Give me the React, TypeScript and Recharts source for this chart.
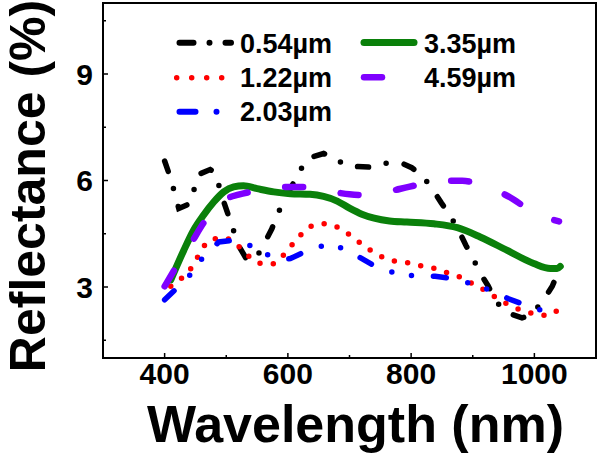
import React from 'react';
import { LineChart, Line, XAxis, YAxis, ReferenceArea } from 'recharts';

// ---- data (wavelength in nm, reflectance in %) ----
const nm054 = [400, 410, 416, 423, 441, 455, 474, 480, 488, 496, 504, 512, 520, 533, 540, 550, 563, 574, 584, 596, 618, 631, 658, 680, 692, 704, 731, 755, 781, 801, 819, 836, 849, 864, 877, 889, 900, 912, 925, 937, 950, 965, 980, 990, 998, 1014, 1029, 1040];
const r054 = [6.55, 6.05, 5.66, 5.21, 5.35, 6.17, 6.31, 6.25, 5.86, 5.40, 4.99, 4.58, 4.17, 3.78, 3.74, 3.86, 4.27, 4.64, 5.08, 5.51, 6.22, 6.62, 6.76, 6.60, 6.42, 6.40, 6.38, 6.48, 6.52, 6.36, 6.12, 5.72, 5.37, 4.99, 4.60, 4.17, 3.82, 3.39, 3.03, 2.62, 2.35, 2.22, 2.13, 2.18, 2.28, 2.61, 3.02, 3.48];

const nm122 = [410, 423, 437, 450, 461, 476, 498, 515, 532, 552, 573, 589, 604, 618, 635, 657, 677, 696, 713, 733, 753, 773, 795, 817, 838, 860, 882, 900, 919, 938, 957, 977, 999, 1021, 1037];
const r122 = [3.02, 3.19, 3.39, 3.73, 4.08, 4.34, 4.38, 4.22, 3.94, 3.68, 3.64, 3.83, 4.13, 4.41, 4.69, 4.78, 4.71, 4.52, 4.30, 4.05, 3.85, 3.73, 3.68, 3.59, 3.52, 3.39, 3.26, 3.09, 2.91, 2.70, 2.51, 2.36, 2.25, 2.20, 2.34];

const nm203 = [400, 420, 442, 462, 488, 519, 545, 576, 590, 604, 632, 664, 691, 717, 744, 776, 809, 839, 869, 899, 931, 958, 987, 1020];
const r203 = [2.64, 2.97, 3.35, 3.83, 4.27, 4.33, 4.11, 3.83, 3.78, 3.80, 4.03, 4.20, 4.08, 3.83, 3.56, 3.38, 3.30, 3.30, 3.23, 3.09, 2.89, 2.67, 2.48, 2.30];

const nm335 = [410, 431, 447, 463, 480, 496, 512, 528, 550, 577, 604, 636, 658, 680, 700, 720, 740, 765, 793, 837, 875, 912, 956, 999, 1026, 1037, 1042];
const r335 = [3.20, 4.03, 4.60, 5.02, 5.40, 5.68, 5.82, 5.85, 5.77, 5.68, 5.63, 5.61, 5.55, 5.42, 5.22, 5.05, 4.94, 4.86, 4.83, 4.78, 4.67, 4.41, 4.03, 3.66, 3.52, 3.52, 3.58];

const nm459 = [400, 420, 442, 463, 482, 501, 520, 540, 565, 590, 626, 650, 674, 700, 720, 740, 760, 796, 825, 850, 883, 910, 931, 961, 985, 1004, 1020, 1040];
const r459 = [3.02, 3.60, 4.20, 4.80, 5.22, 5.49, 5.60, 5.68, 5.76, 5.82, 5.82, 5.75, 5.68, 5.61, 5.59, 5.62, 5.68, 5.82, 5.93, 5.99, 5.99, 5.90, 5.77, 5.52, 5.25, 5.05, 4.95, 4.85];

const seriesNames = ['0.54\u00b5m', '1.22\u00b5m', '2.03\u00b5m', '3.35\u00b5m', '4.59\u00b5m'];
const xTicks = [400, 500, 600, 700, 800, 900, 1000];
const xLabeled = [400, 600, 800, 1000];
const yTicks = [1.5, 3, 4.5, 6, 7.5, 9, 10.5];
const yLabeled = [3, 6, 9];

const zip = (xs: number[], ys: number[]) => xs.map((x, i) => ({ x, y: ys[i] }));
const d054 = zip(nm054, r054);
const d122 = zip(nm122, r122);
const d203 = zip(nm203, r203);
const d335 = zip(nm335, r335);
const d459 = zip(nm459, r459);

const FONT = 'Liberation Sans, Arial, Helvetica, sans-serif';

const XTick = (props: any) => {
  const { x, y, payload } = props;
  const major = xLabeled.includes(payload.value);
  return (
    <g>
      <line x1={x} x2={x} y1={y} y2={y - (major ? 5 : 3)} stroke="#000" strokeWidth={1.5} />
      {major && (
        <text x={x} y={y + 25.5} textAnchor="middle" fontFamily={FONT} fontWeight="bold" fontSize={30} fill="#000">
          {payload.value}
        </text>
      )}
    </g>
  );
};

const YTick = (props: any) => {
  const { x, y, payload } = props;
  const major = yLabeled.includes(payload.value);
  return (
    <g>
      <line x1={x} x2={x + (major ? 5 : 3)} y1={y} y2={y} stroke="#000" strokeWidth={1.5} />
      {major && (
        <text x={x - 10} y={y + 10.5} textAnchor="end" fontFamily={FONT} fontWeight="bold" fontSize={30} fill="#000">
          {payload.value}
        </text>
      )}
    </g>
  );
};

const XTitle = (props: any) => {
  const vb = props.viewBox || { x: 103, y: 358, width: 493, height: 102 };
  return (
    <text x={vb.x + vb.width / 2 + 6} y={vb.y + 84} textAnchor="middle" fontFamily={FONT} fontWeight="bold" fontSize={52} fill="#000">
      Wavelength (nm)
    </text>
  );
};

const YTitle = (props: any) => {
  const vb = props.viewBox || { x: 0, y: 3, width: 103, height: 355 };
  const cx = 45;
  const cy = vb.y + vb.height / 2 + 5.5;
  return (
    <text x={cx} y={cy} transform={`rotate(-90, ${cx}, ${cy})`} textAnchor="middle" fontFamily={FONT} fontWeight="bold" fontSize={50} fill="#000">
      Reflectance (%)
    </text>
  );
};

const LegendOverlay = () => (
  <svg width={600} height={140} style={{ position: 'absolute', left: 0, top: 0, pointerEvents: 'none' }}>
    <line x1={179.5} x2={231} y1={42.7} y2={42.7} stroke="#000" strokeWidth={6} strokeLinecap="round" strokeDasharray="14 16 0 16 20" />
    <line x1={176.7} x2={222} y1={77.7} y2={77.7} stroke="#ff0000" strokeWidth={5.5} strokeLinecap="round" strokeDasharray="0 15" />
    <line x1={179.5} x2={217} y1={111.7} y2={111.7} stroke="#0000ff" strokeWidth={6} strokeLinecap="round" strokeDasharray="16 21 0 100" />
    <line x1={364} x2={414} y1={42.5} y2={42.5} stroke="#0a800a" strokeWidth={7} strokeLinecap="round" />
    <line x1={364} x2={382} y1={77.3} y2={77.3} stroke="#7f00ff" strokeWidth={6.5} strokeLinecap="round" />
    <g fontFamily={FONT} fontWeight="bold" fontSize={27} fill="#000">
      <text x={240} y={52.5}>{seriesNames[0]}</text>
      <text x={240} y={87}>{seriesNames[1]}</text>
      <text x={240} y={121}>{seriesNames[2]}</text>
      <text x={424} y={52.5}>{seriesNames[3]}</text>
      <text x={424} y={87}>{seriesNames[4]}</text>
    </g>
  </svg>
);

export default function App() {
  return (
    <div style={{ position: 'absolute', left: 0, top: 0, width: 600, height: 460, background: '#fff' }}>
      <LineChart width={600} height={460} margin={{ top: 3, right: 4, left: 0, bottom: 0 }}>
        <XAxis
          dataKey="x"
          type="number"
          domain={[300, 1100]}
          ticks={xTicks}
          interval={0}
          tick={<XTick />}
          tickLine={false}
          axisLine={false}
          tickSize={0}
          tickMargin={0}
          height={102}
          allowDataOverflow
          label={{ content: <XTitle /> }}
        />
        <YAxis
          type="number"
          domain={[1, 11]}
          ticks={yTicks}
          interval={0}
          tick={<YTick />}
          tickLine={false}
          axisLine={false}
          tickSize={0}
          tickMargin={0}
          width={103}
          allowDataOverflow
          label={{ content: <YTitle /> }}
        />
        <ReferenceArea x1={300} x2={1100} y1={1} y2={11} fill="none" stroke="#000" strokeWidth={2} ifOverflow="visible" />
        <Line data={d054} dataKey="y" name={seriesNames[0]} type="linear" stroke="#000000" strokeWidth={5.5} strokeLinecap="round" strokeDasharray="11 18 0 18.5" dot={false} activeDot={false} isAnimationActive={false} />
        <Line data={d122} dataKey="y" name={seriesNames[1]} type="monotone" stroke="#ff0000" strokeWidth={5.5} strokeLinecap="round" strokeDasharray="0 13.4" dot={false} activeDot={false} isAnimationActive={false} />
        <Line data={d203} dataKey="y" name={seriesNames[2]} type="linear" stroke="#0000ff" strokeWidth={5.5} strokeLinecap="round" strokeDasharray="13 22 0 20 0 22" dot={false} activeDot={false} isAnimationActive={false} />
        <Line data={d335} dataKey="y" name={seriesNames[3]} type="monotone" stroke="#0a800a" strokeWidth={7} strokeLinecap="round" dot={false} activeDot={false} isAnimationActive={false} />
        <Line data={d459} dataKey="y" name={seriesNames[4]} type="monotone" stroke="#7f00ff" strokeWidth={6.5} strokeLinecap="round" strokeDasharray="18 38" dot={false} activeDot={false} isAnimationActive={false} />
      </LineChart>
      <LegendOverlay />
    </div>
  );
}
